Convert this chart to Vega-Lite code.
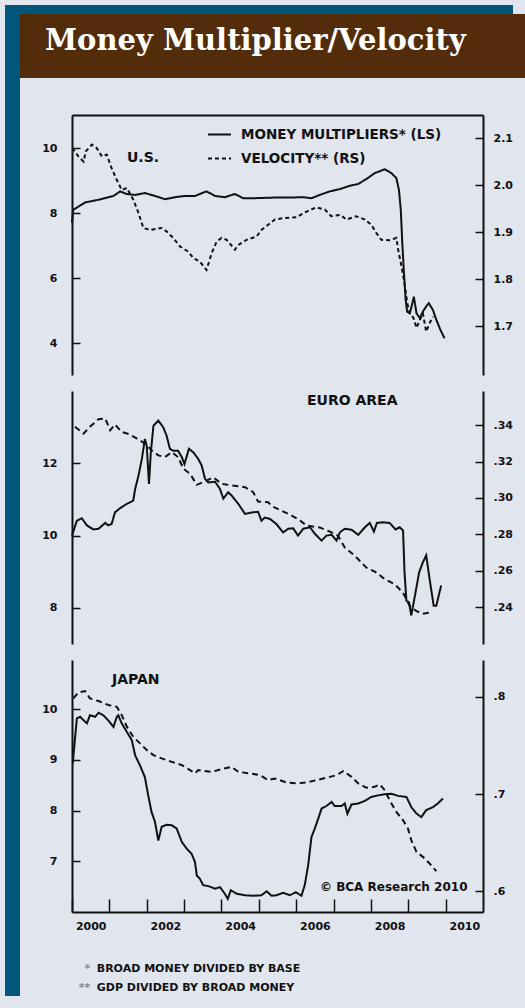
{
  "$schema": "https://vega.github.io/schema/vega-lite/v6.json",
  "background": "#e0e5ee",
  "padding": {"left": 5, "top": 5, "right": 0, "bottom": 22},
  "config": {
    "view": {"stroke": null},
    "concat": {"spacing": 0},
    "axis": {"grid": false, "domainColor": "#111", "tickColor": "#111", "labelColor": "#111", "labelFont": "DejaVu Sans", "labelFontWeight": "bold", "labelFontSize": 11, "domainWidth": 2, "tickWidth": 1.5, "labelFlush": false, "labelOverlap": false},
    "title": {"font": "DejaVu Sans", "fontWeight": "bold", "fontSize": 14, "color": "#111"}
  },
  "datasets": {
    "us_mm": [
      {"t": 2000.0, "v": 7.7}, {"t": 2000.03, "v": 8.1}, {"t": 2000.17, "v": 8.2}, {"t": 2000.35, "v": 8.33}, {"t": 2000.62, "v": 8.39}, {"t": 2000.88, "v": 8.46},
      {"t": 2001.11, "v": 8.53}, {"t": 2001.29, "v": 8.67}, {"t": 2001.46, "v": 8.59}, {"t": 2001.69, "v": 8.56}, {"t": 2001.95, "v": 8.62},
      {"t": 2002.22, "v": 8.53}, {"t": 2002.49, "v": 8.43}, {"t": 2002.76, "v": 8.49}, {"t": 2003.02, "v": 8.53}, {"t": 2003.29, "v": 8.53},
      {"t": 2003.6, "v": 8.67}, {"t": 2003.83, "v": 8.53}, {"t": 2004.09, "v": 8.49}, {"t": 2004.36, "v": 8.59}, {"t": 2004.58, "v": 8.46},
      {"t": 2004.89, "v": 8.46}, {"t": 2005.43, "v": 8.48}, {"t": 2005.83, "v": 8.48}, {"t": 2006.19, "v": 8.49}, {"t": 2006.41, "v": 8.46},
      {"t": 2006.63, "v": 8.56}, {"t": 2006.9, "v": 8.67}, {"t": 2007.17, "v": 8.74}, {"t": 2007.43, "v": 8.84}, {"t": 2007.66, "v": 8.9},
      {"t": 2007.88, "v": 9.05}, {"t": 2008.1, "v": 9.23}, {"t": 2008.37, "v": 9.35}, {"t": 2008.55, "v": 9.23}, {"t": 2008.68, "v": 9.08},
      {"t": 2008.75, "v": 8.72}, {"t": 2008.8, "v": 8.1}, {"t": 2008.84, "v": 7.08}, {"t": 2008.89, "v": 6.05}, {"t": 2008.93, "v": 5.33},
      {"t": 2008.97, "v": 4.97}, {"t": 2009.04, "v": 4.92}, {"t": 2009.11, "v": 5.23}, {"t": 2009.15, "v": 5.43}, {"t": 2009.22, "v": 4.92},
      {"t": 2009.31, "v": 4.77}, {"t": 2009.39, "v": 4.97}, {"t": 2009.48, "v": 5.13}, {"t": 2009.55, "v": 5.23}, {"t": 2009.66, "v": 5.02},
      {"t": 2009.75, "v": 4.72}, {"t": 2009.86, "v": 4.41}, {"t": 2009.97, "v": 4.15}
    ],
    "us_vel": [
      {"t": 2000.01, "v": 2.079}, {"t": 2000.17, "v": 2.061}, {"t": 2000.31, "v": 2.05}, {"t": 2000.37, "v": 2.072}, {"t": 2000.53, "v": 2.086},
      {"t": 2000.66, "v": 2.079}, {"t": 2000.8, "v": 2.061}, {"t": 2000.93, "v": 2.065}, {"t": 2001.06, "v": 2.036}, {"t": 2001.2, "v": 2.011},
      {"t": 2001.33, "v": 1.99}, {"t": 2001.47, "v": 1.994}, {"t": 2001.64, "v": 1.969}, {"t": 2001.78, "v": 1.941}, {"t": 2001.91, "v": 1.909},
      {"t": 2002.09, "v": 1.905}, {"t": 2002.4, "v": 1.909}, {"t": 2002.53, "v": 1.902}, {"t": 2002.71, "v": 1.888}, {"t": 2002.89, "v": 1.87},
      {"t": 2003.11, "v": 1.859}, {"t": 2003.25, "v": 1.845}, {"t": 2003.42, "v": 1.838}, {"t": 2003.6, "v": 1.82}, {"t": 2003.74, "v": 1.856},
      {"t": 2003.87, "v": 1.88}, {"t": 2004.0, "v": 1.888}, {"t": 2004.14, "v": 1.884}, {"t": 2004.36, "v": 1.863}, {"t": 2004.45, "v": 1.873},
      {"t": 2004.67, "v": 1.884}, {"t": 2004.94, "v": 1.891}, {"t": 2005.07, "v": 1.905}, {"t": 2005.25, "v": 1.916}, {"t": 2005.43, "v": 1.927},
      {"t": 2005.65, "v": 1.93}, {"t": 2006.01, "v": 1.932}, {"t": 2006.28, "v": 1.944}, {"t": 2006.54, "v": 1.953}, {"t": 2006.77, "v": 1.948},
      {"t": 2006.94, "v": 1.934}, {"t": 2007.17, "v": 1.937}, {"t": 2007.35, "v": 1.927}, {"t": 2007.61, "v": 1.934}, {"t": 2007.84, "v": 1.927},
      {"t": 2008.01, "v": 1.916}, {"t": 2008.15, "v": 1.898}, {"t": 2008.28, "v": 1.884}, {"t": 2008.5, "v": 1.883}, {"t": 2008.68, "v": 1.888},
      {"t": 2008.73, "v": 1.863}, {"t": 2008.82, "v": 1.827}, {"t": 2008.9, "v": 1.792}, {"t": 2008.97, "v": 1.75}, {"t": 2009.04, "v": 1.728},
      {"t": 2009.14, "v": 1.718}, {"t": 2009.22, "v": 1.697}, {"t": 2009.31, "v": 1.714}, {"t": 2009.39, "v": 1.728}, {"t": 2009.48, "v": 1.689},
      {"t": 2009.57, "v": 1.707}, {"t": 2009.66, "v": 1.721}
    ],
    "ea_mm": [
      {"t": 2000.0, "v": 10.0}, {"t": 2000.13, "v": 10.41}, {"t": 2000.26, "v": 10.48}, {"t": 2000.4, "v": 10.28}, {"t": 2000.57, "v": 10.17},
      {"t": 2000.71, "v": 10.19}, {"t": 2000.89, "v": 10.35}, {"t": 2000.97, "v": 10.28}, {"t": 2001.06, "v": 10.32}, {"t": 2001.15, "v": 10.64},
      {"t": 2001.29, "v": 10.76}, {"t": 2001.47, "v": 10.88}, {"t": 2001.55, "v": 10.92}, {"t": 2001.64, "v": 10.97}, {"t": 2001.69, "v": 11.29},
      {"t": 2001.78, "v": 11.66}, {"t": 2001.87, "v": 12.12}, {"t": 2001.95, "v": 12.67}, {"t": 2002.0, "v": 12.49}, {"t": 2002.06, "v": 11.43},
      {"t": 2002.11, "v": 12.3}, {"t": 2002.18, "v": 13.04}, {"t": 2002.31, "v": 13.18}, {"t": 2002.44, "v": 13.0}, {"t": 2002.53, "v": 12.77},
      {"t": 2002.62, "v": 12.4}, {"t": 2002.71, "v": 12.35}, {"t": 2002.84, "v": 12.35}, {"t": 2002.94, "v": 12.17}, {"t": 2003.01, "v": 11.98},
      {"t": 2003.13, "v": 12.4}, {"t": 2003.25, "v": 12.3}, {"t": 2003.38, "v": 12.12}, {"t": 2003.47, "v": 11.94}, {"t": 2003.56, "v": 11.57},
      {"t": 2003.65, "v": 11.47}, {"t": 2003.83, "v": 11.49}, {"t": 2003.96, "v": 11.29}, {"t": 2004.05, "v": 11.02}, {"t": 2004.18, "v": 11.2},
      {"t": 2004.27, "v": 11.11}, {"t": 2004.45, "v": 10.88}, {"t": 2004.63, "v": 10.6}, {"t": 2004.81, "v": 10.64}, {"t": 2004.98, "v": 10.66},
      {"t": 2005.07, "v": 10.41}, {"t": 2005.16, "v": 10.5}, {"t": 2005.3, "v": 10.46}, {"t": 2005.47, "v": 10.32}, {"t": 2005.65, "v": 10.09},
      {"t": 2005.79, "v": 10.19}, {"t": 2005.92, "v": 10.2}, {"t": 2006.05, "v": 10.0}, {"t": 2006.19, "v": 10.19}, {"t": 2006.37, "v": 10.23},
      {"t": 2006.5, "v": 10.05}, {"t": 2006.68, "v": 9.86}, {"t": 2006.81, "v": 10.0}, {"t": 2006.95, "v": 10.02}, {"t": 2007.08, "v": 9.86},
      {"t": 2007.17, "v": 10.09}, {"t": 2007.3, "v": 10.19}, {"t": 2007.48, "v": 10.16}, {"t": 2007.66, "v": 10.02}, {"t": 2007.84, "v": 10.23},
      {"t": 2007.97, "v": 10.35}, {"t": 2008.08, "v": 10.11}, {"t": 2008.16, "v": 10.35}, {"t": 2008.32, "v": 10.37}, {"t": 2008.5, "v": 10.35},
      {"t": 2008.66, "v": 10.17}, {"t": 2008.77, "v": 10.23}, {"t": 2008.86, "v": 10.14}, {"t": 2008.9, "v": 8.98}, {"t": 2008.95, "v": 8.2},
      {"t": 2009.02, "v": 8.15}, {"t": 2009.08, "v": 7.79}, {"t": 2009.17, "v": 8.29}, {"t": 2009.29, "v": 8.98}, {"t": 2009.39, "v": 9.26},
      {"t": 2009.48, "v": 9.45}, {"t": 2009.57, "v": 8.8}, {"t": 2009.68, "v": 8.06}, {"t": 2009.75, "v": 8.06}, {"t": 2009.88, "v": 8.62}
    ],
    "ea_vel": [
      {"t": 2000.08, "v": 0.3391}, {"t": 2000.31, "v": 0.3354}, {"t": 2000.48, "v": 0.3391}, {"t": 2000.71, "v": 0.3433}, {"t": 2000.89, "v": 0.3437},
      {"t": 2001.02, "v": 0.3372}, {"t": 2001.15, "v": 0.3404}, {"t": 2001.33, "v": 0.3363}, {"t": 2001.55, "v": 0.3349}, {"t": 2001.73, "v": 0.3327},
      {"t": 2001.95, "v": 0.3299}, {"t": 2002.13, "v": 0.3262}, {"t": 2002.31, "v": 0.3234}, {"t": 2002.49, "v": 0.3225}, {"t": 2002.67, "v": 0.3252},
      {"t": 2002.84, "v": 0.3225}, {"t": 2002.98, "v": 0.3161}, {"t": 2003.16, "v": 0.3133}, {"t": 2003.34, "v": 0.3072}, {"t": 2003.56, "v": 0.3091},
      {"t": 2003.78, "v": 0.3114}, {"t": 2004.0, "v": 0.3078}, {"t": 2004.27, "v": 0.3069}, {"t": 2004.63, "v": 0.3059}, {"t": 2004.85, "v": 0.3032},
      {"t": 2004.98, "v": 0.298}, {"t": 2005.25, "v": 0.2976}, {"t": 2005.35, "v": 0.2955}, {"t": 2005.61, "v": 0.293}, {"t": 2005.88, "v": 0.2903},
      {"t": 2006.05, "v": 0.2884}, {"t": 2006.28, "v": 0.2848}, {"t": 2006.63, "v": 0.2838}, {"t": 2006.95, "v": 0.281}, {"t": 2007.12, "v": 0.2792},
      {"t": 2007.3, "v": 0.2728}, {"t": 2007.57, "v": 0.2682}, {"t": 2007.88, "v": 0.2617}, {"t": 2008.15, "v": 0.259}, {"t": 2008.37, "v": 0.2553},
      {"t": 2008.64, "v": 0.2525}, {"t": 2008.86, "v": 0.2479}, {"t": 2009.04, "v": 0.2406}, {"t": 2009.22, "v": 0.2378}, {"t": 2009.39, "v": 0.2363},
      {"t": 2009.57, "v": 0.2369}
    ],
    "jp_mm": [
      {"t": 2000.02, "v": 8.93}, {"t": 2000.13, "v": 9.82}, {"t": 2000.22, "v": 9.85}, {"t": 2000.31, "v": 9.78}, {"t": 2000.4, "v": 9.72},
      {"t": 2000.48, "v": 9.88}, {"t": 2000.62, "v": 9.85}, {"t": 2000.71, "v": 9.93}, {"t": 2000.84, "v": 9.88}, {"t": 2000.97, "v": 9.78},
      {"t": 2001.11, "v": 9.65}, {"t": 2001.2, "v": 9.85}, {"t": 2001.24, "v": 9.88}, {"t": 2001.33, "v": 9.72}, {"t": 2001.47, "v": 9.55},
      {"t": 2001.6, "v": 9.39}, {"t": 2001.69, "v": 9.09}, {"t": 2001.82, "v": 8.89}, {"t": 2001.95, "v": 8.66}, {"t": 2002.04, "v": 8.3},
      {"t": 2002.13, "v": 7.97}, {"t": 2002.22, "v": 7.78}, {"t": 2002.31, "v": 7.41}, {"t": 2002.4, "v": 7.68}, {"t": 2002.53, "v": 7.72},
      {"t": 2002.67, "v": 7.71}, {"t": 2002.8, "v": 7.65}, {"t": 2002.94, "v": 7.38}, {"t": 2003.07, "v": 7.25}, {"t": 2003.2, "v": 7.15},
      {"t": 2003.29, "v": 6.99}, {"t": 2003.34, "v": 6.72}, {"t": 2003.42, "v": 6.66}, {"t": 2003.51, "v": 6.53}, {"t": 2003.65, "v": 6.51},
      {"t": 2003.83, "v": 6.46}, {"t": 2003.96, "v": 6.49}, {"t": 2004.09, "v": 6.36}, {"t": 2004.17, "v": 6.26}, {"t": 2004.25, "v": 6.43},
      {"t": 2004.41, "v": 6.36}, {"t": 2004.63, "v": 6.33}, {"t": 2004.85, "v": 6.32}, {"t": 2005.07, "v": 6.33}, {"t": 2005.21, "v": 6.41},
      {"t": 2005.34, "v": 6.32}, {"t": 2005.47, "v": 6.33}, {"t": 2005.65, "v": 6.38}, {"t": 2005.83, "v": 6.33}, {"t": 2005.99, "v": 6.39},
      {"t": 2006.14, "v": 6.32}, {"t": 2006.23, "v": 6.53}, {"t": 2006.32, "v": 6.92}, {"t": 2006.41, "v": 7.48}, {"t": 2006.5, "v": 7.65},
      {"t": 2006.59, "v": 7.84}, {"t": 2006.68, "v": 8.04}, {"t": 2006.81, "v": 8.09}, {"t": 2006.95, "v": 8.17}, {"t": 2007.03, "v": 8.09},
      {"t": 2007.21, "v": 8.09}, {"t": 2007.3, "v": 8.14}, {"t": 2007.37, "v": 7.94}, {"t": 2007.48, "v": 8.12}, {"t": 2007.66, "v": 8.14},
      {"t": 2007.84, "v": 8.19}, {"t": 2008.01, "v": 8.27}, {"t": 2008.19, "v": 8.3}, {"t": 2008.37, "v": 8.32}, {"t": 2008.55, "v": 8.33},
      {"t": 2008.73, "v": 8.29}, {"t": 2008.95, "v": 8.27}, {"t": 2009.08, "v": 8.07}, {"t": 2009.22, "v": 7.94}, {"t": 2009.35, "v": 7.87},
      {"t": 2009.48, "v": 8.01}, {"t": 2009.66, "v": 8.07}, {"t": 2009.79, "v": 8.14}, {"t": 2009.93, "v": 8.24}
    ],
    "jp_vel": [
      {"t": 2000.04, "v": 0.7983}, {"t": 2000.17, "v": 0.8045}, {"t": 2000.35, "v": 0.8059}, {"t": 2000.48, "v": 0.7983}, {"t": 2000.71, "v": 0.7956},
      {"t": 2000.97, "v": 0.7915}, {"t": 2001.2, "v": 0.7897}, {"t": 2001.33, "v": 0.7812}, {"t": 2001.47, "v": 0.7691}, {"t": 2001.64, "v": 0.7588},
      {"t": 2001.82, "v": 0.7521}, {"t": 2002.0, "v": 0.7452}, {"t": 2002.18, "v": 0.74}, {"t": 2002.4, "v": 0.7366}, {"t": 2002.67, "v": 0.7331},
      {"t": 2002.94, "v": 0.7297}, {"t": 2003.16, "v": 0.7246}, {"t": 2003.29, "v": 0.7212}, {"t": 2003.38, "v": 0.7246}, {"t": 2003.74, "v": 0.7228},
      {"t": 2004.0, "v": 0.7256}, {"t": 2004.27, "v": 0.728}, {"t": 2004.45, "v": 0.7228}, {"t": 2004.76, "v": 0.7212}, {"t": 2005.03, "v": 0.7194},
      {"t": 2005.25, "v": 0.7143}, {"t": 2005.43, "v": 0.716}, {"t": 2005.56, "v": 0.7143}, {"t": 2005.74, "v": 0.7119}, {"t": 2006.01, "v": 0.7109},
      {"t": 2006.28, "v": 0.7119}, {"t": 2006.54, "v": 0.7143}, {"t": 2006.81, "v": 0.7167}, {"t": 2007.08, "v": 0.7194}, {"t": 2007.26, "v": 0.7236},
      {"t": 2007.48, "v": 0.7177}, {"t": 2007.66, "v": 0.7109}, {"t": 2007.88, "v": 0.7064}, {"t": 2008.1, "v": 0.7074}, {"t": 2008.24, "v": 0.7099},
      {"t": 2008.37, "v": 0.704}, {"t": 2008.5, "v": 0.6937}, {"t": 2008.68, "v": 0.6817}, {"t": 2008.86, "v": 0.6731}, {"t": 2008.99, "v": 0.6646},
      {"t": 2009.08, "v": 0.6526}, {"t": 2009.22, "v": 0.6405}, {"t": 2009.39, "v": 0.6354}, {"t": 2009.57, "v": 0.6286}, {"t": 2009.75, "v": 0.6207}
    ],
    "notes": [
      {"line": "1", "part": "marker", "label": "*"},
      {"line": "1", "part": "note", "label": "BROAD MONEY DIVIDED BY BASE"},
      {"line": "2", "part": "marker", "label": "**"},
      {"line": "2", "part": "note", "label": "GDP DIVIDED BY BROAD MONEY"}
    ]
  },
  "hconcat": [
    {"width": 15, "height": 991, "view": {"fill": "#00567b"}, "data": {"values": []}, "mark": {"type": "point", "opacity": 0}},
    {
      "spacing": 37,
      "vconcat": [
        {
          "spacing": 0,
          "vconcat": [
            {"width": 493, "height": 9, "view": {"fill": "#00567b"}, "data": {"values": []}, "mark": {"type": "point", "opacity": 0}},
            {"width": 505, "height": 64, "view": {"fill": "#532c0b"},
             "title": {"text": "Money Multiplier/Velocity", "anchor": "start", "frame": "group", "dx": 25, "offset": -65, "baseline": "alphabetic", "color": "#ffffff", "font": "DejaVu Serif", "fontSize": 29, "fontWeight": "bold"},
             "data": {"values": []}, "mark": {"type": "point", "opacity": 0}}
          ]
        },
        {
          "spacing": 0,
          "hconcat": [
            {"width": 1, "height": 1, "data": {"values": []}, "mark": {"type": "point", "opacity": 0}},
            {
              "spacing": 28,
              "vconcat": [
                {
                  "spacing": 16,
                  "resolve": {"scale": {"strokeDash": "independent"}, "legend": {"strokeDash": "independent"}},
                  "vconcat": [
                    {
                      "width": 411, "height": 260,
                      "title": {"text": "U.S.", "anchor": "start", "frame": "group", "dx": 55, "offset": -57, "baseline": "middle"},
                      "encoding": {"x": {"field": "t", "type": "quantitative", "scale": {"domain": [2000, 2011], "nice": false, "zero": false},
                                         "axis": {"orient": "top", "labels": false, "ticks": false, "domain": true, "title": null}}},
                      "layer": [
                        {"data": {"name": "us_mm"},
                         "mark": {"type": "line", "color": "#111", "strokeWidth": 2},
                         "encoding": {
                           "y": {"field": "v", "type": "quantitative", "scale": {"domain": [3.02, 11.02], "nice": false, "zero": false},
                                 "axis": {"orient": "left", "values": [4, 6, 8, 10], "format": "d", "tickSize": -8, "labelPadding": 23, "minExtent": 51, "title": null}},
                           "strokeDash": {"datum": "MONEY MULTIPLIERS* (LS)",
                             "scale": {"domain": ["MONEY MULTIPLIERS* (LS)", "VELOCITY** (RS)"], "range": [[1, 0], [4, 3]]},
                             "legend": {"title": null, "orient": "none", "legendX": 135, "legendY": 7, "padding": 0, "symbolType": "stroke", "symbolSize": 529, "symbolStrokeWidth": 2, "symbolStrokeColor": "#111", "labelFont": "DejaVu Sans", "labelFontWeight": "bold", "labelFontSize": 13.5, "labelColor": "#111", "labelOffset": 9, "labelLimit": 400, "rowPadding": 5}}
                         }},
                        {"data": {"name": "us_vel"},
                         "mark": {"type": "line", "color": "#111", "strokeWidth": 2},
                         "encoding": {
                           "y": {"field": "v", "type": "quantitative", "scale": {"domain": [1.597, 2.149], "nice": false, "zero": false},
                                 "axis": {"orient": "right", "values": [1.7, 1.8, 1.9, 2.0, 2.1], "format": ".1f", "tickSize": -8, "labelPadding": 18, "title": null}},
                           "strokeDash": {"datum": "VELOCITY** (RS)"}
                         }}
                      ],
                      "resolve": {"scale": {"y": "independent"}}
                    },
                    {
                      "width": 411, "height": 253,
                      "title": {"text": "EURO AREA", "anchor": "start", "frame": "group", "dx": 235, "offset": -24, "baseline": "middle"},
                      "encoding": {"x": {"field": "t", "type": "quantitative", "scale": {"domain": [2000, 2011], "nice": false, "zero": false}, "axis": null}},
                      "layer": [
                        {"data": {"name": "ea_mm"},
                         "mark": {"type": "line", "color": "#111", "strokeWidth": 2},
                         "encoding": {
                           "y": {"field": "v", "type": "quantitative", "scale": {"domain": [7, 14], "nice": false, "zero": false},
                                 "axis": {"orient": "left", "values": [8, 10, 12], "format": "d", "tickSize": -8, "labelPadding": 23, "minExtent": 51, "title": null}}
                         }},
                        {"data": {"name": "ea_vel"},
                         "mark": {"type": "line", "color": "#111", "strokeWidth": 2, "strokeDash": [6, 4]},
                         "encoding": {
                           "y": {"field": "v", "type": "quantitative", "scale": {"domain": [0.2197, 0.3588], "nice": false, "zero": false},
                                 "axis": {"orient": "right", "values": [0.24, 0.26, 0.28, 0.30, 0.32, 0.34], "labelExpr": "substring(format(datum.value, '.2f'), 1)", "tickSize": -8, "labelPadding": 18, "title": null}}
                         }}
                      ],
                      "resolve": {"scale": {"y": "independent"}}
                    },
                    {
                      "width": 411, "height": 252,
                      "title": {"text": "JAPAN", "anchor": "start", "frame": "group", "dx": 40, "offset": -34, "baseline": "middle"},
                      "encoding": {"x": {"field": "t", "type": "quantitative", "scale": {"domain": [2000, 2011], "nice": false, "zero": false},
                                         "axis": {"orient": "bottom", "values": [2000, 2001, 2002, 2003, 2004, 2005, 2006, 2007, 2008, 2009, 2010],
                                                  "labelExpr": "datum.value % 2 == 0 ? format(datum.value, 'd') : ''", "labelOffset": 18.7, "labelPadding": 21,
                                                  "tickSize": -13, "title": "© BCA Research 2010", "titleX": 395, "titleY": -26, "titleAlign": "right", "titleBaseline": "middle",
                                                  "titleFont": "DejaVu Sans", "titleFontWeight": "bold", "titleFontSize": 12, "titleColor": "#111"}}},
                      "layer": [
                        {"data": {"name": "jp_mm"},
                         "mark": {"type": "line", "color": "#111", "strokeWidth": 2},
                         "encoding": {
                           "y": {"field": "v", "type": "quantitative", "scale": {"domain": [6, 10.97], "nice": false, "zero": false},
                                 "axis": {"orient": "left", "values": [7, 8, 9, 10], "format": "d", "tickSize": -8, "labelPadding": 23, "minExtent": 51, "title": null}}
                         }},
                        {"data": {"name": "jp_vel"},
                         "mark": {"type": "line", "color": "#111", "strokeWidth": 2, "strokeDash": [6, 4]},
                         "encoding": {
                           "y": {"field": "v", "type": "quantitative", "scale": {"domain": [0.5787, 0.8378], "nice": false, "zero": false},
                                 "axis": {"orient": "right", "values": [0.6, 0.7, 0.8], "labelExpr": "substring(format(datum.value, '.1f'), 1)", "tickSize": -8, "labelPadding": 18, "title": null}}
                         }}
                      ],
                      "resolve": {"scale": {"y": "independent"}}
                    }
                  ]
                },
                {
                  "width": 411, "height": 38,
                  "data": {"name": "notes"},
                  "encoding": {
                    "y": {"field": "line", "type": "ordinal", "axis": null, "scale": {"type": "point", "padding": 0.5}},
                    "x": {"field": "part", "type": "nominal", "axis": null, "scale": {"type": "point", "domain": ["marker", "note"], "range": [15, 28]}},
                    "text": {"field": "label"}
                  },
                  "layer": [
                    {"transform": [{"filter": "datum.part == 'marker'"}],
                     "mark": {"type": "text", "align": "right", "baseline": "middle", "font": "DejaVu Sans", "fontWeight": "bold", "fontSize": 11, "color": "#888888"}},
                    {"transform": [{"filter": "datum.part == 'note'"}],
                     "mark": {"type": "text", "align": "left", "baseline": "middle", "font": "DejaVu Sans", "fontWeight": "bold", "fontSize": 11, "color": "#111111"}}
                  ]
                }
              ]
            }
          ]
        }
      ]
    }
  ]
}
